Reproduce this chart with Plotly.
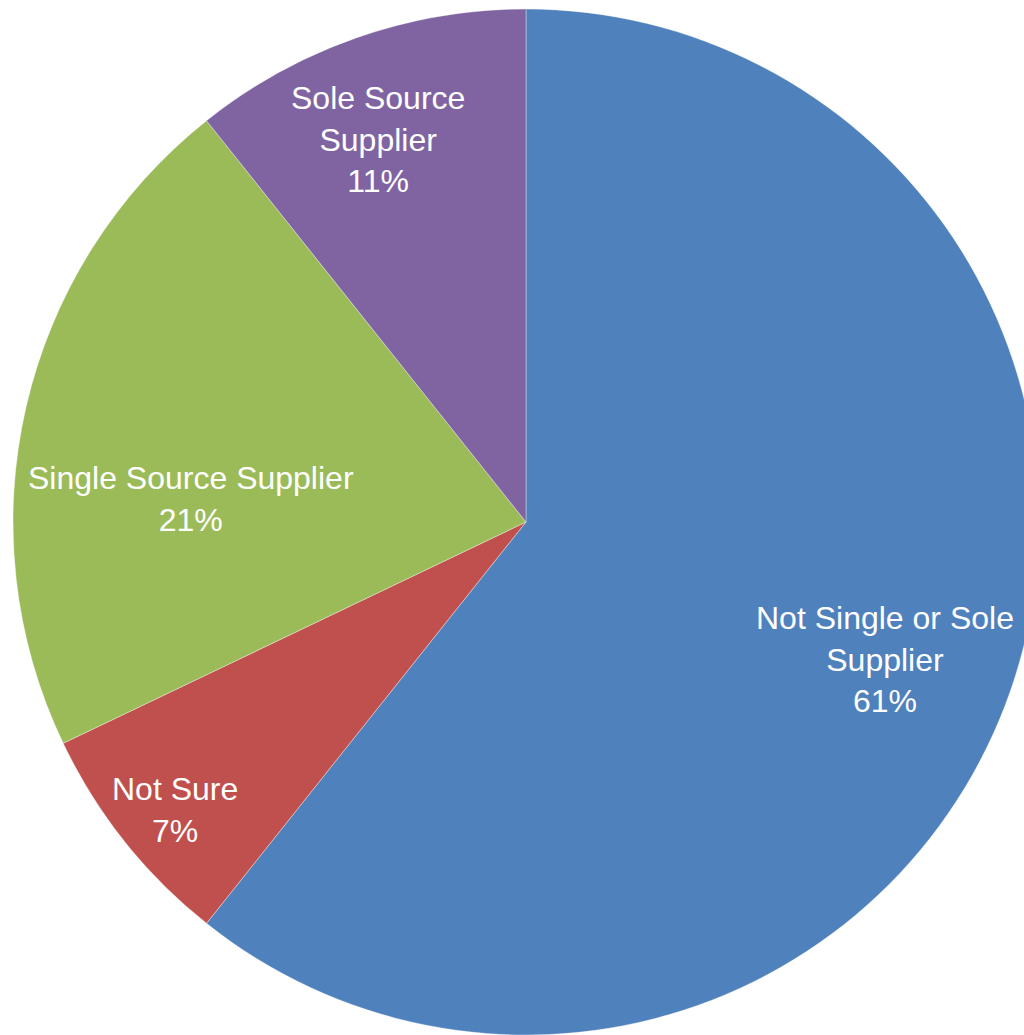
import math
import plotly.graph_objects as go

categories = ["Not Single or Sole<br>Supplier", "Not Sure", "Single Source Supplier", "Sole Source<br>Supplier"]
values = [60.7, 7.2, 21.4, 10.7]
colors = ["#4F81BD", "#C0504D", "#9BBB59", "#8064A2"]
# data-label placement (Excel "best fit" look): distance as fraction of radius,
# and a small angular nudge from the slice mid-angle, in degrees
label_radius = [0.75, 0.885, 0.655, 0.80]
label_nudge_deg = [1.7, -0.9, -9.0, -1.9]

W, H = 1040, 1035
dom_x = [13 / W, 1039 / W]
dom_y = [0, 1026 / H]

fig = go.Figure(go.Pie(
    labels=categories,
    values=values,
    sort=False,
    direction="clockwise",
    rotation=0,
    marker=dict(colors=colors, line=dict(color="rgba(255,255,255,0.6)", width=0.6)),
    textinfo="none",
    hoverinfo="label+percent",
    domain=dict(x=dom_x, y=dom_y),
))

# label placement derived from the pie geometry and slice mid-angles
cx = (dom_x[0] + dom_x[1]) / 2 * W
cy = (1 - (dom_y[0] + dom_y[1]) / 2) * H
R = min((dom_x[1] - dom_x[0]) * W, (dom_y[1] - dom_y[0]) * H) / 2
total = sum(values)
cum = 0
for cat, v, rf, nd in zip(categories, values, label_radius, label_nudge_deg):
    mid = (cum + v / 2) / total * 2 * math.pi + math.radians(nd)
    cum += v
    px = cx + rf * R * math.sin(mid)
    py = cy - rf * R * math.cos(mid)
    pct = round(v / total * 100)
    fig.add_annotation(
        x=px / W, y=1 - py / H, xref="paper", yref="paper",
        text=f"{cat}<br>{pct}%", showarrow=False,
        xanchor="center", yanchor="middle", align="center",
        font=dict(family="Arial, Liberation Sans, sans-serif", size=32, color="white"),
    )

fig.update_layout(
    width=W, height=H,
    margin=dict(l=0, r=0, t=0, b=0),
    showlegend=False,
    paper_bgcolor="white",
    plot_bgcolor="white",
)
post = ("document.body.style.margin='0';document.body.style.overflow='hidden';"
        "document.documentElement.style.overflow='hidden';")
fig.write_html("out.html", post_script=post, config={"displayModeBar": False})
